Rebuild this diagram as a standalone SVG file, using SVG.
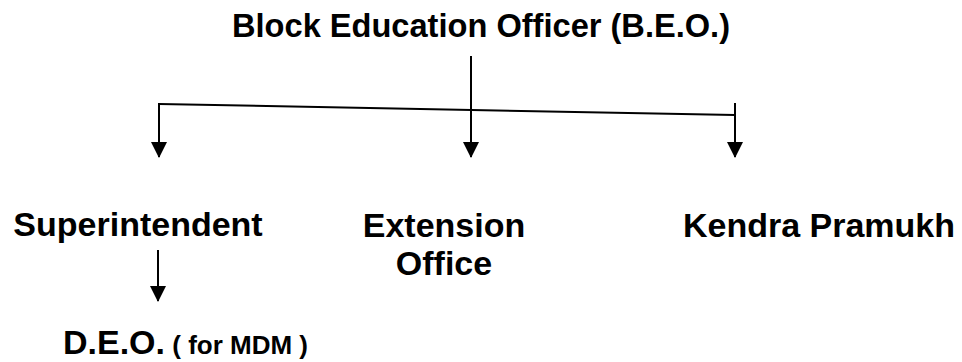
<svg xmlns="http://www.w3.org/2000/svg" width="962" height="362" viewBox="0 0 962 362">
<style>
text{font-family:"Liberation Sans",Arial,sans-serif;font-weight:bold;fill:#000}
.t{font-size:34px}
.s{font-size:26px}
.c{stroke:#000;stroke-width:2;fill:none}
</style>
<defs>
<marker id="ah" markerUnits="userSpaceOnUse" markerWidth="16" markerHeight="16" refX="15" refY="8" orient="auto" viewBox="0 0 16 16">
<path d="M0,0 L16,8 L0,16 z" fill="#000"/>
</marker>
</defs>
<rect width="962" height="362" fill="#fff"/>
<g id="connectors">
<line class="c" x1="471" y1="56" x2="471" y2="157" marker-end="url(#ah)"/>
<line class="c" x1="159" y1="104" x2="735" y2="115"/>
<line class="c" x1="159" y1="103" x2="159" y2="157" marker-end="url(#ah)"/>
<line class="c" x1="735" y1="103" x2="735" y2="157" marker-end="url(#ah)"/>
<line class="c" x1="158" y1="250" x2="158" y2="301" marker-end="url(#ah)"/>
</g>
<g id="beo"><text class="t" x="481" y="37" text-anchor="middle" textLength="498" lengthAdjust="spacingAndGlyphs">Block Education Officer (B.E.O.)</text></g>
<g id="superintendent"><text class="t" x="138" y="236" text-anchor="middle">Superintendent</text></g>
<g id="extension"><text class="t" x="444" y="237" text-anchor="middle">Extension</text><text class="t" x="444" y="275" text-anchor="middle">Office</text></g>
<g id="kendra"><text class="t" x="819" y="237" text-anchor="middle">Kendra Pramukh</text></g>
<g id="deo"><text x="63" y="354"><tspan class="t">D.E.O.</tspan><tspan class="s"> ( for MDM )</tspan></text></g>
</svg>
